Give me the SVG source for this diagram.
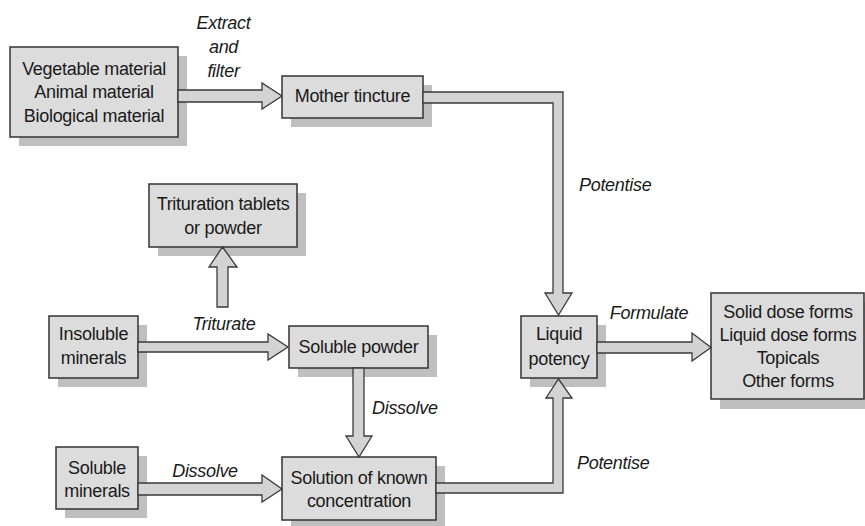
<svg xmlns="http://www.w3.org/2000/svg" width="865" height="526" viewBox="0 0 865 526">
<style>
.sh{fill:#bfbfbf}
.bx{fill:#dcdcdc;stroke:#333;stroke-width:1.5}
.t{font-family:"Liberation Sans",Arial,sans-serif;font-size:18px;letter-spacing:-0.3px;fill:#1a1a1a;text-anchor:middle}
.l{font-family:"Liberation Sans",Arial,sans-serif;font-size:18px;letter-spacing:-0.3px;font-style:italic;fill:#1a1a1a}
.ar{fill:#d3d3d3;stroke:#3a3a3a;stroke-width:1.3;stroke-linejoin:miter}
</style>
<rect width="865" height="526" fill="#fff"/>
<g id="vegetable">
<rect class="sh" x="19" y="56" width="168" height="90"/>
<rect class="bx" x="10" y="47" width="168" height="90"/>
<text class="t" x="94" y="74.5">Vegetable material</text>
<text class="t" x="94" y="98">Animal material</text>
<text class="t" x="94" y="121.5">Biological material</text>
</g>
<g id="mother">
<rect class="sh" x="291" y="85" width="141" height="42"/>
<rect class="bx" x="282" y="76" width="141" height="42"/>
<text class="t" x="352.5" y="101.5">Mother tincture</text>
</g>
<g id="trituration">
<rect class="sh" x="158" y="193" width="148" height="63"/>
<rect class="bx" x="149" y="184" width="148" height="63"/>
<text class="t" x="223" y="209.5">Trituration tablets</text>
<text class="t" x="223" y="234">or powder</text>
</g>
<g id="insoluble">
<rect class="sh" x="58" y="325" width="89" height="62"/>
<rect class="bx" x="49" y="316" width="89" height="62"/>
<text class="t" x="93.5" y="339.5">Insoluble</text>
<text class="t" x="93.5" y="364">minerals</text>
</g>
<g id="solpowder">
<rect class="sh" x="298" y="335" width="139" height="42"/>
<rect class="bx" x="289" y="326" width="139" height="42"/>
<text class="t" x="358.5" y="353">Soluble powder</text>
</g>
<g id="solminerals">
<rect class="sh" x="65" y="456" width="82" height="62"/>
<rect class="bx" x="56" y="447" width="82" height="62"/>
<text class="t" x="97" y="473.5">Soluble</text>
<text class="t" x="97" y="496.5">minerals</text>
</g>
<g id="solution">
<rect class="sh" x="291" y="466" width="154" height="63"/>
<rect class="bx" x="282" y="457" width="154" height="63"/>
<text class="t" x="359" y="483.5">Solution of known</text>
<text class="t" x="359" y="506.5">concentration</text>
</g>
<g id="liquid">
<rect class="sh" x="530" y="325" width="76" height="62"/>
<rect class="bx" x="521" y="316" width="76" height="62"/>
<text class="t" x="559" y="339.5">Liquid</text>
<text class="t" x="559" y="365">potency</text>
</g>
<g id="forms">
<rect class="sh" x="720" y="302" width="153" height="107"/>
<rect class="bx" x="711" y="293" width="153" height="106"/>
<text class="t" x="788" y="317.5">Solid dose forms</text>
<text class="t" x="788" y="340.5">Liquid dose forms</text>
<text class="t" x="788" y="363.5">Topicals</text>
<text class="t" x="788" y="386.5">Other forms</text>
</g>
<g id="connectors">
<path class="ar" d="M178,90 H262 V83 L282,96 L262,109 V102 H178 Z"/>
<path class="ar" d="M423,92 H563 V293 H572 L558.5,315 L545,293 H553 V103 H423 Z"/>
<path class="ar" d="M217,307 V267 H209 L222.5,247 L237,267 H228 V307 Z"/>
<path class="ar" d="M138,342 H268 V334 L288,347 L268,360 V352 H138 Z"/>
<path class="ar" d="M353,368 V436 H346 L359,457 L372,436 H364 V368 Z"/>
<path class="ar" d="M138,483 H262 V475 L282,489 L262,502 V495 H138 Z"/>
<path class="ar" d="M436,483 H553 V398 H546 L558.5,379 L572,398 H563 V493 H436 Z"/>
<path class="ar" d="M597,342 H692 V333 L711,347.5 L692,361 V353 H597 Z"/>
</g>
<g id="labels">
<text class="l" x="223.5" y="28.5" text-anchor="middle">Extract</text>
<text class="l" x="223.5" y="52.5" text-anchor="middle">and</text>
<text class="l" x="223.5" y="76.5" text-anchor="middle">filter</text>
<text class="l" x="579" y="190.5">Potentise</text>
<text class="l" x="224" y="329.5" text-anchor="middle">Triturate</text>
<text class="l" x="649" y="318.5" text-anchor="middle">Formulate</text>
<text class="l" x="372" y="413.5">Dissolve</text>
<text class="l" x="205" y="476.5" text-anchor="middle">Dissolve</text>
<text class="l" x="577" y="468.5">Potentise</text>
</g>
</svg>
